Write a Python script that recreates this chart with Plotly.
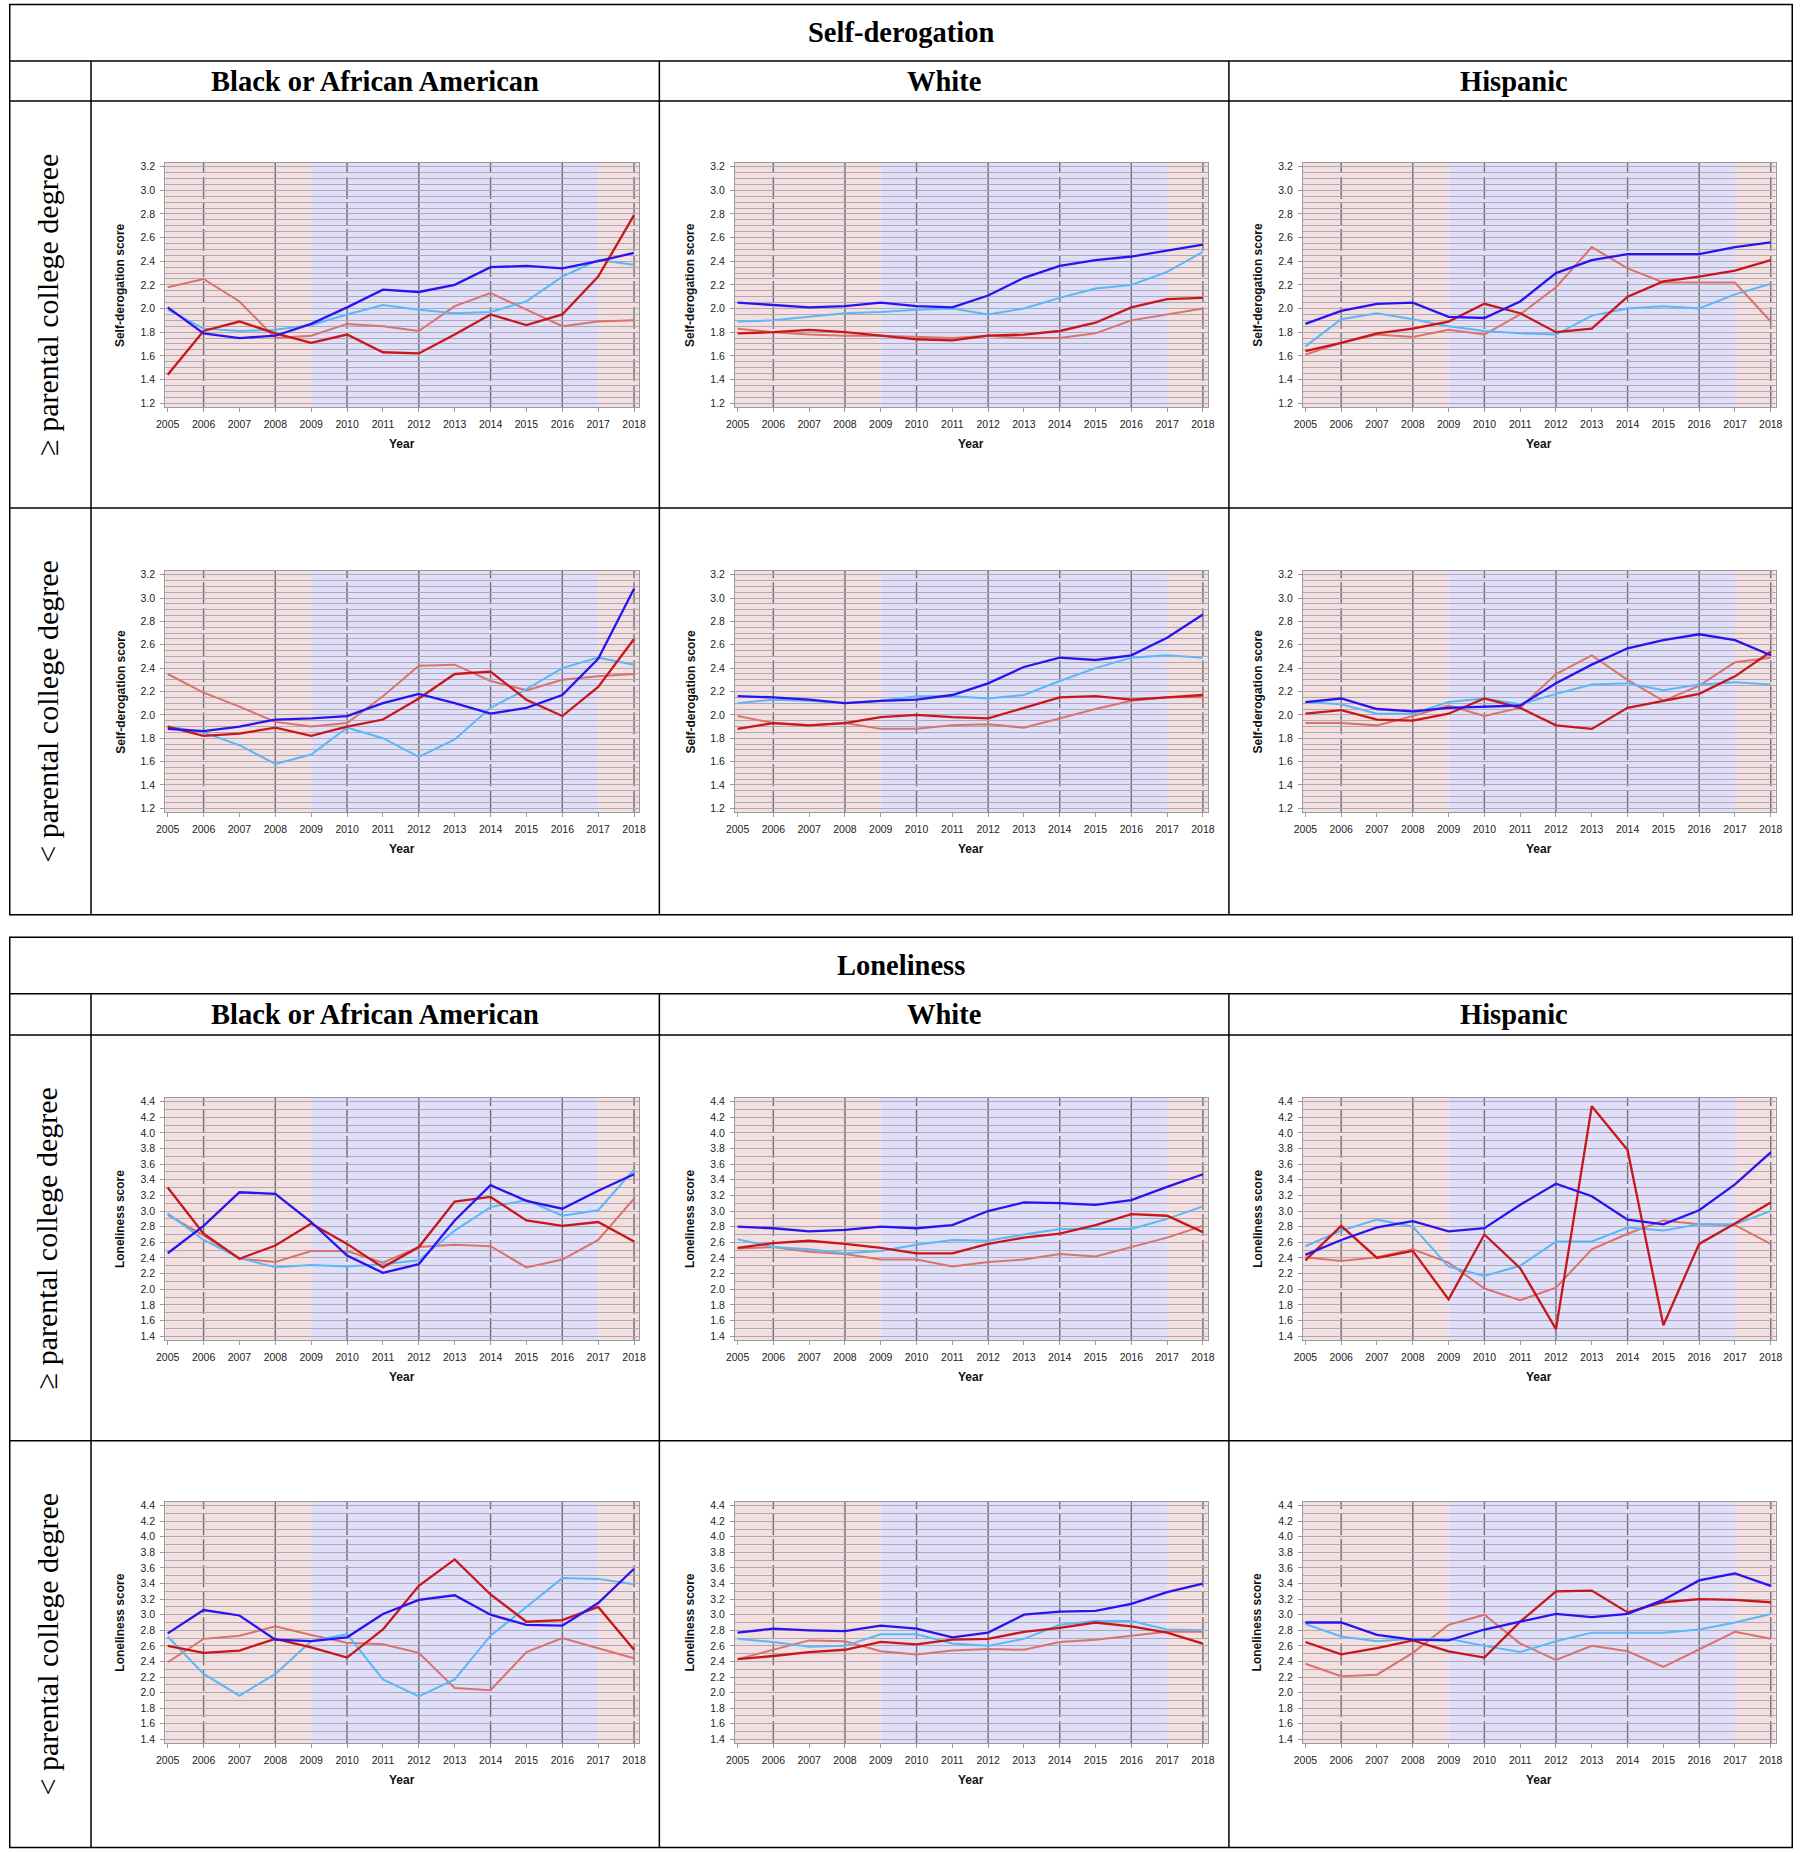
import plotly.graph_objects as go

W, H = 1800, 1853
# horizontal stretch about the page centre, compensating the slight
# horizontal squeeze observed in the captured page
XS = 1.0087

years = list(range(2005, 2019))

# ---------------- data ----------------
# Self-derogation, >= parental college degree
sd_black_ge = {
    "dark_blue":  [2.01, 1.79, 1.75, 1.77, 1.87, 2.01, 2.16, 2.14, 2.20, 2.35, 2.36, 2.34, 2.40, 2.47],
    "light_blue": [1.99, 1.83, 1.81, 1.82, 1.86, 1.95, 2.03, 1.99, 1.96, 1.97, 2.06, 2.27, 2.41, 2.37],
    "dark_red":   [1.44, 1.81, 1.89, 1.79, 1.71, 1.78, 1.63, 1.62, 1.78, 1.95, 1.86, 1.95, 2.27, 2.79],
    "light_red":  [2.18, 2.25, 2.06, 1.75, 1.77, 1.87, 1.85, 1.81, 2.02, 2.13, 1.99, 1.85, 1.89, 1.90],
}
sd_white_ge = {
    "dark_blue":  [2.05, 2.03, 2.01, 2.02, 2.05, 2.02, 2.01, 2.11, 2.26, 2.36, 2.41, 2.44, 2.49, 2.54],
    "light_blue": [1.89, 1.90, 1.93, 1.96, 1.97, 1.99, 2.00, 1.95, 2.00, 2.09, 2.17, 2.20, 2.31, 2.48],
    "dark_red":   [1.79, 1.80, 1.82, 1.80, 1.77, 1.74, 1.73, 1.77, 1.78, 1.81, 1.88, 2.01, 2.08, 2.09],
    "light_red":  [1.83, 1.80, 1.78, 1.77, 1.77, 1.76, 1.75, 1.77, 1.75, 1.75, 1.79, 1.90, 1.95, 2.00],
}
sd_hisp_ge = {
    "dark_blue":  [1.87, 1.98, 2.04, 2.05, 1.93, 1.92, 2.06, 2.30, 2.41, 2.46, 2.46, 2.46, 2.52, 2.56],
    "light_blue": [1.68, 1.91, 1.96, 1.91, 1.85, 1.81, 1.79, 1.78, 1.94, 2.00, 2.02, 2.00, 2.12, 2.21],
    "dark_red":   [1.64, 1.71, 1.79, 1.83, 1.89, 2.04, 1.96, 1.80, 1.83, 2.10, 2.23, 2.27, 2.32, 2.41],
    "light_red":  [1.61, 1.71, 1.78, 1.76, 1.82, 1.78, 1.95, 2.18, 2.52, 2.34, 2.22, 2.22, 2.22, 1.89],
}
# Self-derogation, < parental college degree
sd_black_lt = {
    "dark_blue":  [1.88, 1.86, 1.90, 1.96, 1.97, 1.99, 2.10, 2.18, 2.10, 2.01, 2.06, 2.17, 2.48, 3.08],
    "light_blue": [1.90, 1.85, 1.74, 1.58, 1.66, 1.89, 1.80, 1.64, 1.79, 2.06, 2.22, 2.40, 2.49, 2.43],
    "dark_red":   [1.90, 1.82, 1.84, 1.89, 1.82, 1.90, 1.96, 2.14, 2.35, 2.37, 2.13, 1.99, 2.24, 2.65],
    "light_red":  [2.35, 2.19, 2.07, 1.94, 1.90, 1.93, 2.16, 2.42, 2.43, 2.29, 2.21, 2.30, 2.33, 2.35],
}
sd_white_lt = {
    "dark_blue":  [2.16, 2.15, 2.13, 2.10, 2.12, 2.13, 2.17, 2.27, 2.41, 2.49, 2.47, 2.51, 2.66, 2.86],
    "light_blue": [2.10, 2.13, 2.12, 2.10, 2.12, 2.16, 2.16, 2.14, 2.17, 2.29, 2.40, 2.49, 2.51, 2.49],
    "dark_red":   [1.88, 1.93, 1.91, 1.93, 1.98, 2.00, 1.98, 1.97, 2.06, 2.15, 2.16, 2.13, 2.15, 2.17],
    "light_red":  [1.99, 1.93, 1.91, 1.93, 1.88, 1.88, 1.91, 1.92, 1.89, 1.97, 2.05, 2.12, 2.15, 2.15],
}
sd_hisp_lt = {
    "dark_blue":  [2.11, 2.14, 2.05, 2.03, 2.06, 2.07, 2.08, 2.27, 2.43, 2.57, 2.64, 2.69, 2.64, 2.51],
    "light_blue": [2.11, 2.09, 2.01, 2.01, 2.11, 2.14, 2.09, 2.18, 2.26, 2.27, 2.21, 2.26, 2.28, 2.26],
    "dark_red":   [2.01, 2.04, 1.96, 1.95, 2.01, 2.14, 2.06, 1.91, 1.88, 2.06, 2.12, 2.18, 2.33, 2.54],
    "light_red":  [1.93, 1.93, 1.91, 1.99, 2.08, 1.99, 2.06, 2.35, 2.51, 2.30, 2.12, 2.25, 2.45, 2.49],
}
# Loneliness, >= parental college degree
lo_black_ge = {
    "dark_blue":  [2.46, 2.81, 3.24, 3.22, 2.86, 2.43, 2.21, 2.32, 2.88, 3.33, 3.13, 3.03, 3.26, 3.47],
    "light_blue": [2.97, 2.63, 2.40, 2.28, 2.31, 2.29, 2.32, 2.37, 2.75, 3.05, 3.14, 2.94, 3.01, 3.53],
    "dark_red":   [3.30, 2.71, 2.39, 2.56, 2.84, 2.58, 2.28, 2.54, 3.12, 3.18, 2.88, 2.81, 2.86, 2.61],
    "light_red":  [2.95, 2.69, 2.39, 2.35, 2.49, 2.49, 2.34, 2.54, 2.57, 2.55, 2.28, 2.38, 2.63, 3.16],
}
lo_white_ge = {
    "dark_blue":  [2.80, 2.78, 2.74, 2.76, 2.80, 2.78, 2.82, 3.00, 3.11, 3.10, 3.08, 3.14, 3.31, 3.47],
    "light_blue": [2.64, 2.54, 2.51, 2.46, 2.49, 2.57, 2.63, 2.62, 2.70, 2.77, 2.77, 2.77, 2.90, 3.06],
    "dark_red":   [2.53, 2.59, 2.62, 2.58, 2.53, 2.46, 2.46, 2.58, 2.66, 2.71, 2.82, 2.96, 2.94, 2.73],
    "light_red":  [2.52, 2.54, 2.48, 2.45, 2.38, 2.38, 2.29, 2.35, 2.38, 2.45, 2.42, 2.54, 2.66, 2.81],
}
lo_hisp_ge = {
    "dark_blue":  [2.44, 2.63, 2.79, 2.87, 2.74, 2.78, 3.08, 3.35, 3.19, 2.89, 2.83, 3.01, 3.34, 3.75],
    "light_blue": [2.55, 2.75, 2.89, 2.80, 2.29, 2.17, 2.30, 2.61, 2.61, 2.79, 2.75, 2.83, 2.83, 3.00],
    "dark_red":   [2.37, 2.81, 2.40, 2.49, 1.87, 2.70, 2.27, 1.49, 4.34, 3.78, 1.54, 2.58, 2.84, 3.11],
    "light_red":  [2.41, 2.36, 2.41, 2.51, 2.34, 2.01, 1.86, 2.02, 2.51, 2.71, 2.88, 2.83, 2.82, 2.58],
}
# Loneliness, < parental college degree
lo_black_lt = {
    "dark_blue":  [2.76, 3.06, 2.99, 2.68, 2.66, 2.71, 3.01, 3.19, 3.25, 3.00, 2.87, 2.86, 3.15, 3.59],
    "light_blue": [2.72, 2.24, 1.96, 2.24, 2.66, 2.75, 2.17, 1.95, 2.17, 2.73, 3.10, 3.47, 3.46, 3.39],
    "dark_red":   [2.60, 2.51, 2.54, 2.69, 2.58, 2.45, 2.81, 3.37, 3.71, 3.26, 2.91, 2.93, 3.10, 2.55],
    "light_red":  [2.39, 2.69, 2.73, 2.85, 2.74, 2.64, 2.62, 2.51, 2.06, 2.03, 2.52, 2.70, 2.57, 2.44],
}
lo_white_lt = {
    "dark_blue":  [2.77, 2.82, 2.80, 2.79, 2.86, 2.82, 2.71, 2.77, 3.00, 3.04, 3.05, 3.14, 3.29, 3.40],
    "light_blue": [2.69, 2.65, 2.59, 2.60, 2.75, 2.75, 2.63, 2.60, 2.69, 2.87, 2.92, 2.92, 2.81, 2.80],
    "dark_red":   [2.43, 2.47, 2.52, 2.55, 2.65, 2.62, 2.68, 2.69, 2.78, 2.83, 2.90, 2.85, 2.77, 2.63],
    "light_red":  [2.43, 2.55, 2.67, 2.66, 2.53, 2.49, 2.54, 2.56, 2.55, 2.65, 2.68, 2.73, 2.78, 2.78],
}
lo_hisp_lt = {
    "dark_blue":  [2.90, 2.90, 2.74, 2.68, 2.67, 2.81, 2.91, 3.01, 2.97, 3.01, 3.19, 3.44, 3.53, 3.37],
    "light_blue": [2.88, 2.72, 2.66, 2.69, 2.69, 2.60, 2.52, 2.66, 2.77, 2.77, 2.77, 2.81, 2.90, 3.01],
    "dark_red":   [2.65, 2.49, 2.57, 2.67, 2.53, 2.45, 2.91, 3.30, 3.31, 3.03, 3.16, 3.20, 3.19, 3.16],
    "light_red":  [2.37, 2.21, 2.23, 2.51, 2.87, 3.00, 2.63, 2.42, 2.60, 2.53, 2.33, 2.55, 2.78, 2.69],
}

measures = ["Self-derogation", "Loneliness"]
races = ["Black or African American", "White", "Hispanic"]
degree_rows = ["\u2265 parental college degree", "< parental college degree"]
y_titles = {"Self-derogation": "Self-derogation score", "Loneliness": "Loneliness score"}
y_tickvals = {
    "Self-derogation": [1.2, 1.4, 1.6, 1.8, 2.0, 2.2, 2.4, 2.6, 2.8, 3.0, 3.2],
    "Loneliness": [1.4, 1.6, 1.8, 2.0, 2.2, 2.4, 2.6, 2.8, 3.0, 3.2, 3.4, 3.6, 3.8, 4.0, 4.2, 4.4],
}
solid_ref_years = [2008, 2012, 2016]
dashed_ref_years = [2006, 2010, 2014, 2018]
period_breaks = [2009, 2017]

panel_data = {
    ("Self-derogation", 0): [sd_black_ge, sd_white_ge, sd_hisp_ge],
    ("Self-derogation", 1): [sd_black_lt, sd_white_lt, sd_hisp_lt],
    ("Loneliness", 0): [lo_black_ge, lo_white_ge, lo_hisp_ge],
    ("Loneliness", 1): [lo_black_lt, lo_white_lt, lo_hisp_lt],
}

# ---------------- styling ----------------
colors = {
    "light_red": "#d9736b",
    "light_blue": "#5cb7f6",
    "dark_red": "#c8171b",
    "dark_blue": "#2a14ee",
}
widths = {"light_red": 2.0, "light_blue": 2.0, "dark_red": 2.3, "dark_blue": 2.3}
draw_order = ["light_red", "light_blue", "dark_red", "dark_blue"]

PINK = "#f3dfe0"
LAVENDER = "#e1defa"
GRID = "#aeaab4"
VLINE = "#6e6e76"
FRAME = "#9a9a9a"
SANS = "Liberation Sans, Arial, sans-serif"
SERIF = "Liberation Serif, Times New Roman, serif"

X_RANGE = [2004.93, 2018.14]
Y_RANGE = {"Self-derogation": [1.166, 3.234], "Loneliness": [1.35, 4.45]}
MINOR = {"Self-derogation": 0.05, "Loneliness": 0.1}

# pixel geometry (reference pixels)
col_x = [(164, 638), (734, 1207), (1302, 1775)]
row_y = {
    ("Self-derogation", 0): (161, 406),
    ("Self-derogation", 1): (570, 812),
    ("Loneliness", 0): (1098, 1341),
    ("Loneliness", 1): (1503, 1745),
}
tables = {
    "Self-derogation": [2.4, 59.1, 99.3, 507.0, 914.8],
    "Loneliness": [937.2, 994.0, 1035.3, 1441.9, 1849.6],
}
vx = [2.4, 89.8, 658.3, 1228.0, 1797.6]


def px(x):
    xs = W / 2 + (x - W / 2) * XS
    xs = min(max(xs, 0.75), W - 0.75)
    return xs / W


def py(y):
    return 1 - y / H


fig = go.Figure()
layout = dict(
    width=W, height=H, margin=dict(l=0, r=0, t=0, b=0),
    paper_bgcolor="white", plot_bgcolor="rgba(0,0,0,0)",
    showlegend=False, hovermode=False,
)
shapes = []
annotations = []

k = 0
for m in measures:
    for r in range(2):
        for c in range(3):
            k += 1
            xa = "xaxis" if k == 1 else f"xaxis{k}"
            ya = "yaxis" if k == 1 else f"yaxis{k}"
            xr = "x" if k == 1 else f"x{k}"
            yr = "y" if k == 1 else f"y{k}"
            x0p, x1p = col_x[c]
            y0p, y1p = row_y[(m, r)]
            layout[xa] = dict(
                domain=[px(x0p), px(x1p)], anchor=yr, range=X_RANGE,
                tickmode="array", tickvals=years, ticktext=[str(v) for v in years],
                ticks="outside", ticklen=4, tickcolor=FRAME, tickwidth=1,
                tickfont=dict(family=SANS, size=10.5, color="#222"),
                ticklabelstandoff=3,
                showgrid=False, zeroline=False,
                showline=True, linecolor=FRAME, linewidth=1, mirror=True,
                fixedrange=True,
            )
            layout[ya] = dict(
                domain=[py(y1p), py(y0p)], anchor=xr, range=Y_RANGE[m],
                tickmode="array", tickvals=y_tickvals[m],
                ticktext=[f"{v:.1f}" for v in y_tickvals[m]],
                ticks="outside", ticklen=4, tickcolor=FRAME, tickwidth=1,
                tickfont=dict(family=SANS, size=10.5, color="#222"),
                ticklabelstandoff=3,
                showgrid=True, gridcolor=GRID, gridwidth=1,
                minor=dict(dtick=MINOR[m], tick0=y_tickvals[m][0], showgrid=True,
                           gridcolor=GRID, gridwidth=1, ticks=""),
                zeroline=False,
                showline=True, linecolor=FRAME, linewidth=1, mirror=True,
                fixedrange=True,
            )
            # background period bands
            bands = [(X_RANGE[0], period_breaks[0], PINK),
                     (period_breaks[0], period_breaks[1], LAVENDER),
                     (period_breaks[1], X_RANGE[1], PINK)]
            for b0, b1, col in bands:
                shapes.append(dict(type="rect", xref=xr, yref=f"{yr} domain",
                                   x0=b0, x1=b1, y0=0, y1=1, fillcolor=col,
                                   line=dict(width=0), layer="below"))
            # vertical reference lines
            for yv in dashed_ref_years:
                shapes.append(dict(type="line", xref=xr, yref=f"{yr} domain",
                                   x0=yv, x1=yv, y0=0, y1=1,
                                   line=dict(color=VLINE, width=1.4, dash="22px,4px"),
                                   layer="below"))
            for yv in solid_ref_years:
                shapes.append(dict(type="line", xref=xr, yref=f"{yr} domain",
                                   x0=yv, x1=yv, y0=0, y1=1,
                                   line=dict(color=VLINE, width=1.4),
                                   layer="below"))
            # series
            data = panel_data[(m, r)][c]
            for key in draw_order:
                fig.add_trace(go.Scatter(
                    x=years, y=data[key], mode="lines", name=key,
                    line=dict(color=colors[key], width=widths[key]),
                    xaxis=xr, yaxis=yr,
                ))
            # axis titles
            annotations.append(dict(
                x=px((x0p + x1p) / 2), y=py(y1p + 37), xref="paper", yref="paper",
                text="<b>Year</b>", showarrow=False,
                font=dict(family=SANS, size=12, color="#111"),
                xanchor="center", yanchor="middle",
            ))
            annotations.append(dict(
                x=px(x0p - 45), y=py((y0p + y1p) / 2), xref="paper", yref="paper",
                text=f"<b>{y_titles[m]}</b>", showarrow=False, textangle=-90,
                font=dict(family=SANS, size=12, color="#111"),
                xanchor="center", yanchor="middle",
            ))

# table frames, titles, headers, row labels
for m in measures:
    t0, t1, t2, t3, t4 = tables[m]
    line = dict(color="black", width=1.5)
    shapes.append(dict(type="rect", xref="paper", yref="paper",
                       x0=px(vx[0]), x1=px(vx[-1]), y0=py(t4), y1=py(t0),
                       line=line, fillcolor="rgba(0,0,0,0)", layer="above"))
    for yy in [t1, t2, t3]:
        shapes.append(dict(type="line", xref="paper", yref="paper",
                           x0=px(vx[0]), x1=px(vx[-1]), y0=py(yy), y1=py(yy),
                           line=line, layer="above"))
    for xx in vx[1:-1]:
        shapes.append(dict(type="line", xref="paper", yref="paper",
                           x0=px(xx), x1=px(xx), y0=py(t1), y1=py(t4),
                           line=line, layer="above"))
    annotations.append(dict(
        x=px((vx[0] + vx[-1]) / 2), y=py((t0 + t1) / 2), xref="paper", yref="paper",
        text=f"<b>{m}</b>", showarrow=False,
        font=dict(family=SERIF, size=28.5, color="black"),
        xanchor="center", yanchor="middle",
    ))
    for c, race in enumerate(races):
        annotations.append(dict(
            x=px((vx[c + 1] + vx[c + 2]) / 2), y=py((t1 + t2) / 2), xref="paper", yref="paper",
            text=f"<b>{race}</b>", showarrow=False,
            font=dict(family=SERIF, size=28.5, color="black"),
            xanchor="center", yanchor="middle",
        ))
    for r, lab in enumerate(degree_rows):
        ya0, ya1 = (t2, t3) if r == 0 else (t3, t4)
        annotations.append(dict(
            x=px((vx[0] + vx[1]) / 2), y=py((ya0 + ya1) / 2), xref="paper", yref="paper",
            text=lab, showarrow=False, textangle=-90,
            font=dict(family=SERIF, size=30, color="black"),
            xanchor="center", yanchor="middle",
        ))

layout["shapes"] = shapes
layout["annotations"] = annotations
fig.update_layout(**layout)

fig.write_html(
    "out.html",
    config={"displayModeBar": False, "staticPlot": True},
    post_script=(
        "document.documentElement.style.overflow='hidden';"
        "document.body.style.overflow='hidden';"
        "document.body.style.margin='0';"
    ),
)
